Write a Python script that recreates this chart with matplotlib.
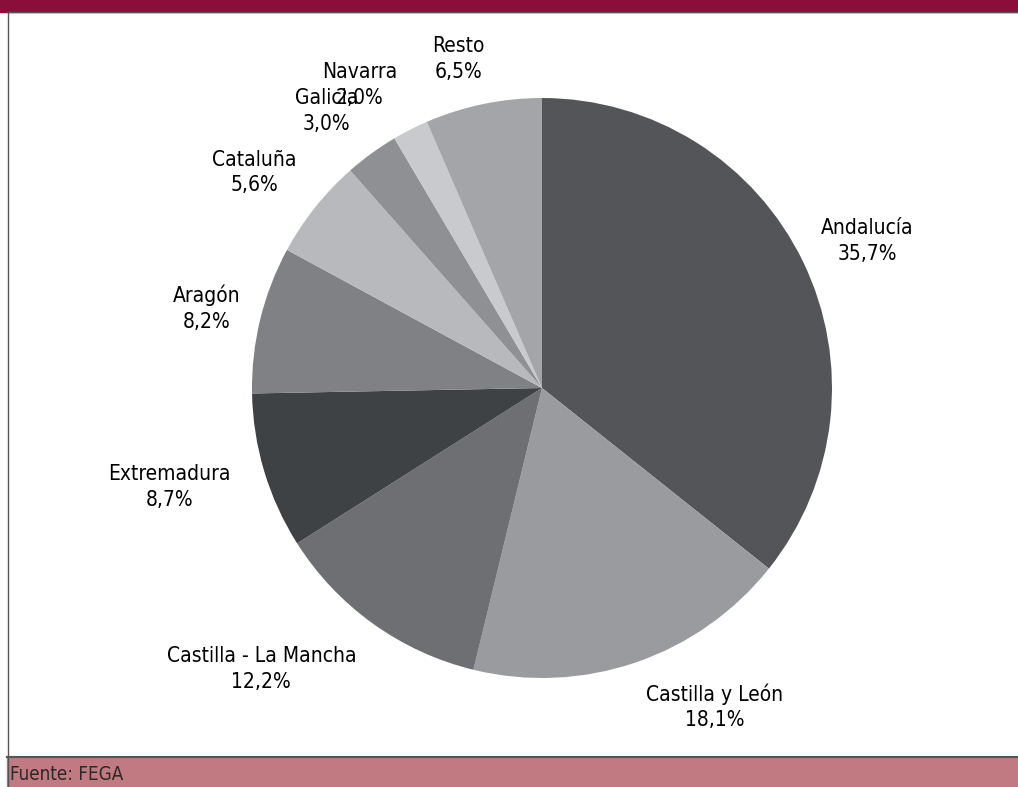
import numpy as np
import matplotlib
matplotlib.use("Agg")
import matplotlib.pyplot as plt
from matplotlib.patches import Rectangle
from matplotlib.lines import Line2D
from matplotlib import font_manager

# datos de la figura (FEGA)
regiones = ["Andalucía", "Castilla y León", "Castilla - La Mancha", "Extremadura",
            "Aragón", "Cataluña", "Galicia", "Navarra", "Resto"]
porcentajes = [35.7, 18.1, 12.2, 8.7, 8.2, 5.6, 3.0, 2.0, 6.5]
fuente = "Fuente: FEGA"

colores = ["#545559", "#9a9b9f", "#6e6f73", "#3f4245", "#808185",
           "#b8b9bc", "#8f9094", "#c9cacd", "#a4a5a8"]
# distancia y giro de cada etiqueta (en radios / grados)
dist_etiqueta = [1.23, 1.25, 1.37, 1.33, 1.19, 1.24, 1.21, 1.22, 1.17]
giro_etiqueta = [-1.4, 9.5, -9.3, -1.9, 0.3, 1.7, 1.8, 4.0, 2.5]

W, H = 1018, 787
cx, cy, R = 542, 388, 290

nombres = {f.name for f in font_manager.fontManager.ttflist}
if 'Liberation Sans Narrow' in nombres:
    familia = ['Liberation Sans Narrow', 'DejaVu Sans']
    estirar = 'normal'
else:
    familia = ['DejaVu Sans']
    estirar = 'condensed'
plt.rcParams['font.family'] = familia

fig = plt.figure(figsize=(W / 100, H / 100), dpi=100)

# bandas de cabecera y pie
fig.patches.append(Rectangle((0, 1 - 12 / H), 1, 12 / H, transform=fig.transFigure,
                             color="#8b0e3a", zorder=0))
fig.patches.append(Rectangle((7 / W, 0), 1, 30 / H, transform=fig.transFigure,
                             color="#c27a82", zorder=0))
fig.lines.append(Line2D([7 / W, 1], [30 / H, 30 / H], transform=fig.transFigure,
                        color="#555555", lw=1.5))
fig.lines.append(Line2D([7 / W, 1], [1 - 12 / H, 1 - 12 / H], transform=fig.transFigure,
                        color="#555555", lw=1.0))
fig.lines.append(Line2D([7.5 / W, 7.5 / W], [0, 1 - 12 / H], transform=fig.transFigure,
                        color="#555555", lw=1.0))
fig.text(10 / W, 13 / H, fuente, fontsize=13.5, color="#2a2a2a", va="center",
         fontstretch=estirar)

ax = fig.add_axes([0, 0, 1, 1])
wedges, _ = ax.pie(porcentajes, colors=colores, startangle=90, counterclock=False,
                   radius=1, wedgeprops=dict(linewidth=0))
ax.set_aspect('auto')
ax.set_xlim(-cx / R, (W - cx) / R)
ax.set_ylim(-(H - cy) / R, cy / R)
ax.axis("off")

for w, reg, p, d, g in zip(wedges, regiones, porcentajes, dist_etiqueta, giro_etiqueta):
    ang = np.deg2rad((w.theta1 + w.theta2) / 2 + g)
    txt = f"{reg}\n{p:.1f}%".replace(".", ",")
    ax.text(d * np.cos(ang), d * np.sin(ang), txt, ha="center", va="center",
            fontsize=15, color="#000000", linespacing=1.35, fontstretch=estirar)

fig.savefig("out.png", dpi=100)
